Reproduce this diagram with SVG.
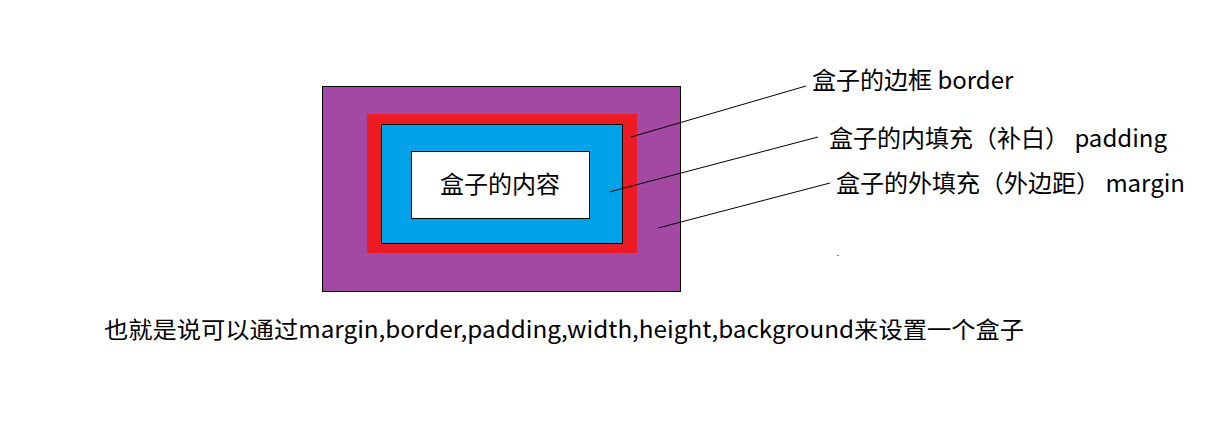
<svg xmlns="http://www.w3.org/2000/svg" width="1218" height="422" viewBox="0 0 1218 422">
<style>
text{font-family:"Noto Sans CJK SC","Microsoft YaHei",sans-serif;fill:#000}
.lbl{font-size:24px}
.ln{stroke:#000;stroke-width:1;fill:none}
</style>
<rect width="1218" height="422" fill="#fff"/>
<g id="margin"><rect x="322.5" y="86.5" width="358" height="205" fill="#A349A4" stroke="#000" stroke-width="1"/></g>
<g id="border"><rect x="367" y="114" width="270" height="139" fill="#ED1C24"/></g>
<g id="padding"><rect x="381.5" y="124.5" width="241" height="119" fill="#00A2E8" stroke="#000" stroke-width="1"/></g>
<g id="content"><rect x="411.5" y="151.5" width="178" height="67" fill="#fff" stroke="#000" stroke-width="1"/>
<text x="500" y="193" font-size="24" text-anchor="middle">盒子的内容</text></g>
<g id="connectors">
<line class="ln" x1="631" y1="137" x2="806" y2="86"/>
<line class="ln" x1="609" y1="192" x2="818" y2="137"/>
<line class="ln" x1="658" y1="228" x2="830" y2="183"/>
<rect x="837.5" y="255" width="1" height="1" fill="#000"/>
</g>
<g id="label-border"><text class="lbl" x="812" y="89">盒子的边框 border</text></g>
<g id="label-padding"><text class="lbl" x="829" y="147">盒子的内填充（补白） padding</text></g>
<g id="label-margin"><text class="lbl" x="836" y="192">盒子的外填充（外边距） margin</text></g>
<g id="caption"><text x="104" y="338" font-size="23" textLength="920" lengthAdjust="spacingAndGlyphs">也就是说可以通过margin,border,padding,width,height,background来设置一个盒子</text></g>
</svg>
